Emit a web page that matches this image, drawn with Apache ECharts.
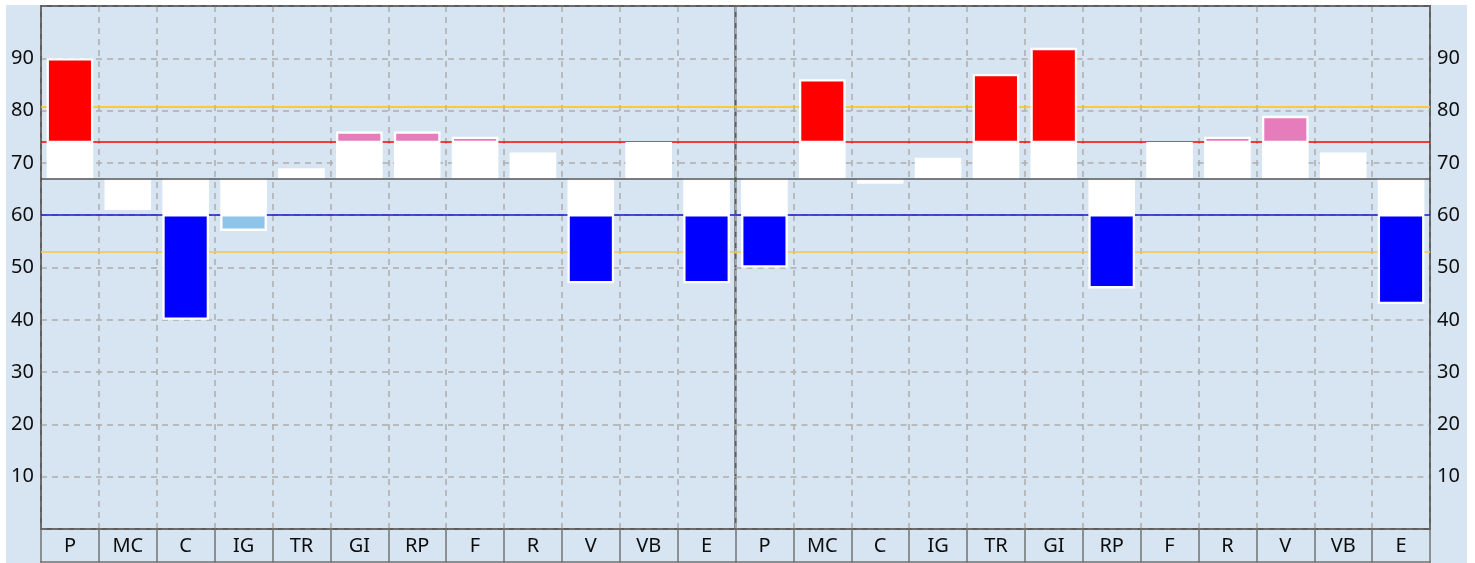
<!DOCTYPE html>
<html>
<head>
<meta charset="utf-8">
<script src="https://cdn.jsdelivr.net/npm/echarts@6/dist/echarts.min.js"></script>
<style>
  html, body { margin: 0; padding: 0; background: #ffffff; }
  #chart { width: 1475px; height: 563px; }
</style>
</head>
<body>
<div id="chart"></div>
<script>
// Profile scales, shown twice (two profiles side by side)
const categories = ['P', 'MC', 'C', 'IG', 'TR', 'GI', 'RP', 'F', 'R', 'V', 'VB', 'E'];
const leftScores = [90, 61, 40, 57, 69, 76, 76, 75, 72, 47, 74, 47];
const rightScores = [50, 86, 66, 71, 87, 92, 46, 74, 75, 79, 72, 43];

// Reference levels of the profile
const BASELINE = 67;
const UPPER_LIMIT = 74;
const UPPER_ALERT = 80.8;
const LOWER_LIMIT = 60;
const LOWER_ALERT = 53.1;

const FONT = 'Noto Sans';
const TEXT = '#0d0d0d';
const FRAME = '#5c5c5c';
const GRID_DASH = '#adadad';

// Bars float from the baseline; the part beyond the limit lines is coloured
function renderProfileBar(params, api) {
  const idx = api.value(0);
  const score = api.value(1);
  const band = api.size([1, 0])[0];
  const w = band * 0.806;
  const base = api.coord([idx, BASELINE]);
  const end = api.coord([idx, score]);
  const x0 = base[0] - w / 2;
  const children = [{
    type: 'rect',
    shape: { x: x0, y: Math.min(base[1], end[1]), width: w, height: Math.abs(end[1] - base[1]) },
    style: { fill: '#ffffff' }
  }];
  let limit = null, fill = null;
  if (score > UPPER_LIMIT) {
    limit = UPPER_LIMIT;
    fill = score > UPPER_ALERT ? '#ff0000' : '#e77cbc';
  } else if (score < LOWER_LIMIT) {
    limit = LOWER_LIMIT;
    fill = score < LOWER_ALERT ? '#0000ff' : '#8ec4e7';
  }
  if (fill) {
    const edge = api.coord([idx, limit]);
    const pad = 2.3, gap = 1.3;
    const up = score > limit;
    const yA = up ? end[1] + pad : edge[1] + gap;
    const yB = up ? edge[1] - gap : end[1] - pad;
    children.push({
      type: 'rect',
      shape: { x: x0 + pad, y: yA, width: w - 2 * pad, height: Math.max(0, yB - yA) },
      style: { fill: fill }
    });
  }
  return { type: 'group', children: children };
}

function limitLines() {
  return {
    silent: true,
    z: 1,
    symbol: 'none',
    label: { show: false },
    emphasis: { disabled: true },
    animation: false,
    data: [
      { yAxis: UPPER_ALERT, lineStyle: { color: '#ffc20e', type: 'solid', width: 1.5 } },
      { yAxis: UPPER_LIMIT, lineStyle: { color: '#ff0000', type: 'solid', width: 1.5 } },
      { yAxis: LOWER_LIMIT, lineStyle: { color: '#1717c8', type: 'solid', width: 1.5 } },
      { yAxis: LOWER_ALERT, lineStyle: { color: '#f3c94a', type: 'solid', width: 1.5 } }
    ]
  };
}

function baselineLine() {
  return {
    silent: true,
    z: 10,
    symbol: 'none',
    label: { show: false },
    emphasis: { disabled: true },
    animation: false,
    data: [{ yAxis: BASELINE, lineStyle: { color: '#555555', type: 'solid', width: 1.5 } }]
  };
}

function categoryAxis(gridIndex) {
  return {
    type: 'category',
    gridIndex: gridIndex,
    data: categories,
    position: 'bottom',
    axisLine: { show: true, lineStyle: { color: FRAME, width: 1.5 } },
    axisTick: { show: true, length: 34, lineStyle: { color: '#737373', width: 1.5 } },
    axisLabel: { color: TEXT, fontFamily: FONT, fontSize: 20, margin: 7 },
    splitLine: { show: true, lineStyle: { color: GRID_DASH, type: [6, 5], width: 1.5 } }
  };
}

// Plain frame lines: bottom edge of the label boxes and the top edge of each panel
function frameAxis(gridIndex, position, offset, color) {
  return {
    type: 'category',
    gridIndex: gridIndex,
    data: categories,
    position: position,
    offset: offset,
    axisLine: { show: true, lineStyle: { color: color, width: 1.6 } },
    axisTick: { show: false },
    axisLabel: { show: false },
    splitLine: { show: false }
  };
}

function valueAxis(gridIndex, position) {
  return {
    type: 'value',
    gridIndex: gridIndex,
    position: position,
    min: 0,
    max: 100,
    interval: 10,
    axisLine: { show: true, lineStyle: { color: FRAME, width: 1.5 } },
    axisTick: { show: false },
    axisLabel: {
      color: TEXT, fontFamily: FONT, fontSize: 20, margin: 7,
      showMinLabel: false, showMaxLabel: false
    },
    splitLine: { show: true, lineStyle: { color: GRID_DASH, type: [6, 5], width: 1.5 } }
  };
}

const chart = echarts.init(document.getElementById('chart'), null, { renderer: 'canvas' });

chart.setOption({
  animation: false,
  backgroundColor: '#d7e4f1',
  graphic: [
    { type: 'rect', z: -10, shape: { x: 0, y: 0, width: 1475, height: 5 }, style: { fill: '#ffffff' } },
    { type: 'rect', z: -10, shape: { x: 0, y: 0, width: 6, height: 563 }, style: { fill: '#ffffff' } },
    { type: 'rect', z: -10, shape: { x: 1467, y: 0, width: 8, height: 563 }, style: { fill: '#ffffff' } }
  ],
  grid: [
    { left: 41, top: 6, width: 694.5, bottom: 34, show: true, borderColor: FRAME, borderWidth: 1.8, backgroundColor: 'transparent' },
    { left: 735.5, top: 6, width: 694.5, bottom: 34, show: true, borderColor: FRAME, borderWidth: 1.8, backgroundColor: 'transparent' }
  ],
  xAxis: [
    categoryAxis(0), categoryAxis(1),
    frameAxis(0, 'bottom', 33, '#737373'), frameAxis(1, 'bottom', 33, '#737373'),
    frameAxis(0, 'top', 0, FRAME), frameAxis(1, 'top', 0, FRAME)
  ],
  yAxis: [valueAxis(0, 'left'), valueAxis(1, 'right')],
  series: [
    {
      type: 'custom',
      xAxisIndex: 0, yAxisIndex: 0,
      z: 3,
      silent: true,
      renderItem: renderProfileBar,
      encode: { x: 0, y: 1 },
      data: leftScores.map((s, i) => [i, s]),
      markLine: limitLines()
    },
    {
      type: 'line',
      xAxisIndex: 0, yAxisIndex: 0,
      data: [],
      markLine: baselineLine()
    },
    {
      type: 'custom',
      xAxisIndex: 1, yAxisIndex: 1,
      z: 3,
      silent: true,
      renderItem: renderProfileBar,
      encode: { x: 0, y: 1 },
      data: rightScores.map((s, i) => [i, s]),
      markLine: limitLines()
    },
    {
      type: 'line',
      xAxisIndex: 1, yAxisIndex: 1,
      data: [],
      markLine: baselineLine()
    }
  ]
});
</script>
</body>
</html>
